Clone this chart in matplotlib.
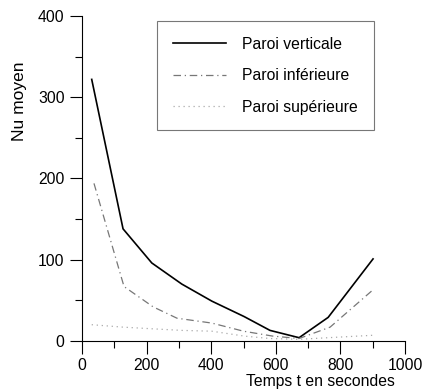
import matplotlib.pyplot as plt
from matplotlib.ticker import MultipleLocator

plt.rcParams['font.family'] = ['Liberation Sans', 'DejaVu Sans']

# temps (s) et Nu moyen
t_vert = [30, 127, 216, 309, 402, 502, 582, 672, 762, 901]
nu_vert = [322, 138, 96, 70, 49, 30, 13, 4, 29, 101]

t_inf = [37, 130, 220, 294, 402, 500, 590, 672, 768, 901]
nu_inf = [194, 67, 42, 28, 22, 12, 6, 3, 17, 63]

t_sup = [30, 127, 216, 309, 402, 502, 582, 672, 762, 901]
nu_sup = [20, 17, 15, 13, 12, 6, 3, 2, 4, 7]

fig = plt.figure(figsize=(4.25, 3.91), dpi=100)
ax = fig.add_axes([0.193, 0.128, 0.76, 0.831])

ax.plot(t_vert, nu_vert, color='black', lw=1.2, label='Paroi verticale')
ax.plot(t_inf, nu_inf, color='#777777', lw=0.9, ls=(0, (6, 3, 1, 3)), label='Paroi inférieure')
ax.plot(t_sup, nu_sup, color='#aaaaaa', lw=0.9, ls=(0, (1, 3)), label='Paroi supérieure')

ax.set_xlim(0, 1000)
ax.set_ylim(0, 400)
ax.xaxis.set_major_locator(MultipleLocator(200))
ax.xaxis.set_minor_locator(MultipleLocator(100))
ax.yaxis.set_major_locator(MultipleLocator(100))
ax.yaxis.set_minor_locator(MultipleLocator(50))
ax.tick_params(which='major', direction='out', length=9, width=0.8, labelsize=11.3)
ax.tick_params(axis='x', which='major', pad=3)
ax.tick_params(which='minor', direction='out', length=5, width=0.8)
ax.spines['top'].set_visible(False)
ax.spines['right'].set_visible(False)

fig.text(0.753, 0.005, 'Temps t en secondes', ha='center', va='bottom', fontsize=11.3)
fig.text(0.045, 0.74, 'Nu moyen', rotation=90, ha='center', va='center', fontsize=12.5)

leg = ax.legend(loc='upper left', bbox_to_anchor=(0.232, 0.985), frameon=True,
                fancybox=False, edgecolor='#555555', fontsize=11.3,
                handlelength=3.4, handletextpad=1.05, labelspacing=1.05,
                borderpad=1.0, borderaxespad=0)
leg.get_frame().set_linewidth(0.8)

fig.savefig('out.png', dpi=100)
